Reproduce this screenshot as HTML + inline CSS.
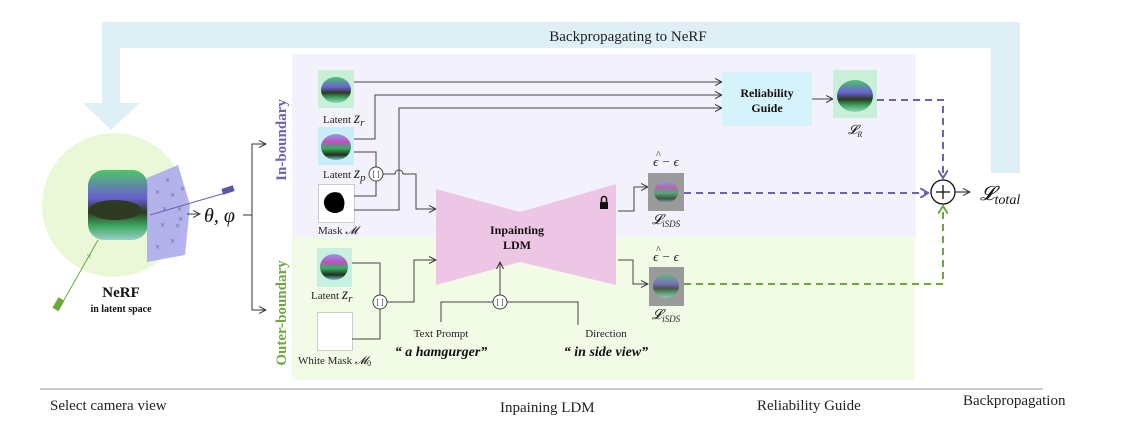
<!DOCTYPE html>
<html><head><meta charset="utf-8"><style>
html,body{margin:0;padding:0;background:#fff;}
svg{display:block;}
text{font-family:"Liberation Serif",serif;}
</style></head><body>
<svg width="1138" height="425" viewBox="0 0 1138 425" xmlns="http://www.w3.org/2000/svg">
<defs>
<marker id="ar" markerWidth="8" markerHeight="8" refX="7" refY="4" orient="auto" markerUnits="userSpaceOnUse"><path d="M0,0.5 L7,4 L0,7.5" fill="none" stroke="#333" stroke-width="1"/></marker>
<marker id="ap" markerWidth="10" markerHeight="10" refX="8" refY="5" orient="auto" markerUnits="userSpaceOnUse"><path d="M0,0 L8,5 L0,10" fill="none" stroke="#6a63b0" stroke-width="2"/></marker>
<marker id="ag" markerWidth="10" markerHeight="10" refX="8" refY="5" orient="auto" markerUnits="userSpaceOnUse"><path d="M0,0 L8,5 L0,10" fill="none" stroke="#6ea83a" stroke-width="2"/></marker>
<linearGradient id="bg1" x1="0" y1="0" x2="0" y2="1"><stop offset="0" stop-color="#4fc46a"/><stop offset="0.4" stop-color="#6a5fd0"/><stop offset="0.6" stop-color="#2c3a20"/><stop offset="0.8" stop-color="#3ea860"/><stop offset="1" stop-color="#9ad0c8"/></linearGradient>
<linearGradient id="bg2" x1="0" y1="0" x2="0" y2="1"><stop offset="0" stop-color="#8a9fe0"/><stop offset="0.3" stop-color="#c050c0"/><stop offset="0.55" stop-color="#33b060"/><stop offset="0.8" stop-color="#203018"/><stop offset="1" stop-color="#70c0d0"/></linearGradient>
</defs>

<path d="M102,22 H1020 V173 H991 V48 H120 V103 H140 L111,130 L83,103 H102 Z" fill="#def0f6"/>
<text x="628" y="41" font-size="15" text-anchor="middle" fill="#222">Backpropagating to NeRF</text>

<rect x="292" y="54" width="624" height="183" fill="#f3f1fc"/>
<rect x="292" y="237" width="623" height="143" fill="#f2fbe6"/>

<circle cx="114" cy="205" r="72" fill="#eaf8d8"/>
<rect x="88" y="170" width="60" height="70" rx="16" fill="url(#bg1)"/>
<ellipse cx="115" cy="210" rx="26" ry="10" fill="#2e3a22"/>
<path d="M147,178 L178,165 L190,205 L185,255 L147,262 Z" fill="#a9a6ee" opacity="0.85"/>
<g font-size="9" fill="#5a56a8">
<text x="165" y="183">×</text><text x="155" y="195">×</text><text x="170" y="198">×</text><text x="180" y="192">×</text><text x="162" y="212">×</text><text x="177" y="212">×</text><text x="160" y="228">×</text><text x="175" y="229">×</text><text x="170" y="244">×</text><text x="155" y="250">×</text><text x="178" y="222">×</text>
</g>
<line x1="150" y1="215" x2="225" y2="193" stroke="#6a63b0" stroke-width="1"/>
<rect x="222" y="187" width="12" height="6" fill="#5a56a8" transform="rotate(-18 228 190)"/>
<line x1="98" y1="240" x2="64" y2="300" stroke="#6ea83a" stroke-width="1"/>
<text x="86" y="260" font-size="11" fill="#6ea83a">×</text>
<rect x="55" y="298" width="7" height="12" fill="#6ea83a" transform="rotate(30 58 304)"/>
<text x="121" y="297" font-size="15" font-weight="bold" text-anchor="middle" fill="#111">NeRF</text>
<text x="121" y="312" font-size="10" font-weight="bold" text-anchor="middle" fill="#111">in latent space</text>

<line x1="187" y1="214" x2="200" y2="214" stroke="#333" marker-end="url(#ar)"/>
<text x="204" y="222" font-size="20" font-style="italic" fill="#111">θ, φ</text>
<line x1="243" y1="215" x2="252" y2="215" stroke="#333"/>
<path d="M266,144 H252 V310 H266" fill="none" stroke="#333"/>
<line x1="252" y1="144" x2="266" y2="144" stroke="#333" marker-end="url(#ar)"/>
<line x1="252" y1="310" x2="266" y2="310" stroke="#333" marker-end="url(#ar)"/>

<text transform="translate(286,140) rotate(-90)" font-size="15" font-weight="bold" text-anchor="middle" fill="#6a63b0">In-boundary</text>
<text transform="translate(286,313) rotate(-90)" font-size="15" font-weight="bold" text-anchor="middle" fill="#6ea83a">Outer-boundary</text>

<rect x="318" y="70" width="36" height="38" fill="#c8f0d8"/><ellipse cx="336" cy="90" rx="15" ry="13" fill="url(#bg1)"/>
<text x="323" y="123" font-size="11" fill="#222">Latent <tspan font-style="italic" font-size="16">z</tspan><tspan font-style="italic" font-size="11" dy="3">r</tspan></text>
<rect x="318" y="127" width="36" height="38" fill="#c9eefa"/><ellipse cx="336" cy="147" rx="15" ry="13" fill="url(#bg2)"/>
<text x="323" y="178" font-size="11" fill="#222">Latent <tspan font-style="italic" font-size="16">z</tspan><tspan font-style="italic" font-size="11" dy="3">p</tspan></text>
<rect x="318.5" y="184.5" width="36" height="38" fill="#fff" stroke="#ccc"/><path d="M325,198 Q330,190 340,193 Q347,200 343,210 Q335,216 327,210 Q322,204 325,198 Z" fill="#000"/>
<text x="318" y="234" font-size="11" fill="#222">Mask <tspan font-style="italic">𝓜</tspan></text>

<g fill="none" stroke="#444" stroke-width="1">
<line x1="354" y1="82" x2="722" y2="82" marker-end="url(#ar)"/>
<path d="M354,139 H375 V95 H722" marker-end="url(#ar)"/>
<path d="M354,210 H399 V108 H722" marker-end="url(#ar)"/>
<path d="M354,152 H376 V196 H354"/>
<path d="M383,174 H395 A4,4 0 0 1 403,174 H416 V209 H436" marker-end="url(#ar)"/>
</g>
<circle cx="376" cy="174" r="7" fill="#fff" stroke="#444"/><text x="376" y="177" font-size="8" text-anchor="middle" fill="#333">[ ]</text>

<rect x="317" y="248" width="35" height="39" fill="#c8f0e0"/><ellipse cx="334" cy="267" rx="14" ry="13" fill="url(#bg2)"/>
<text x="311" y="299" font-size="11" fill="#222">Latent <tspan font-style="italic" font-size="16">z</tspan><tspan font-style="italic" font-size="11" dy="3">r</tspan></text>
<rect x="317.5" y="312.5" width="35" height="38" fill="#fff" stroke="#ccc"/>
<text x="298" y="364" font-size="11" fill="#222">White Mask <tspan font-style="italic">𝓜</tspan><tspan font-size="8" dy="2">0</tspan></text>

<path d="M436,189 L520,212 L616,184 L616,285 L520,262 L436,285 Z" fill="#ecc6e4"/>
<text x="517" y="234" font-size="12" font-weight="bold" text-anchor="middle" fill="#111">Inpainting</text>
<text x="517" y="249" font-size="12" font-weight="bold" text-anchor="middle" fill="#111">LDM</text>
<rect x="600" y="202" width="8" height="7" fill="#111"/><path d="M601.5,202 V199 A2.5,2.5 0 0 1 606.5,199 V202" fill="none" stroke="#111" stroke-width="1.5"/>

<g fill="none" stroke="#444" stroke-width="1">
<path d="M352,263 H380 V339 H352"/>
<path d="M387,302 H414 V260 H436" marker-end="url(#ar)"/>
<path d="M441,322 V302 H578 V325"/>
<line x1="500" y1="295" x2="500" y2="262" marker-end="url(#ar)"/>
<path d="M618,211 H634 V187 H648" marker-end="url(#ar)"/>
<path d="M618,260 H633 V284 H648" marker-end="url(#ar)"/>
</g>
<circle cx="380" cy="302" r="7" fill="#fff" stroke="#444"/><text x="380" y="305" font-size="8" text-anchor="middle" fill="#333">[ ]</text>
<circle cx="500" cy="302" r="7" fill="#fff" stroke="#444"/><text x="500" y="305" font-size="8" text-anchor="middle" fill="#333">[ ]</text>
<text x="441" y="337" font-size="11" text-anchor="middle" fill="#222">Text Prompt</text>
<text x="441" y="356" font-size="14" font-weight="bold" font-style="italic" text-anchor="middle" fill="#111">“ a hamgurger”</text>
<text x="606" y="337" font-size="11" text-anchor="middle" fill="#222">Direction</text>
<text x="606" y="356" font-size="14" font-weight="bold" font-style="italic" text-anchor="middle" fill="#111">“ in side view”</text>

<rect x="648" y="173" width="36" height="38" fill="#9a9a9a"/><ellipse cx="666" cy="192" rx="12" ry="11" fill="url(#bg2)" opacity="0.7"/>
<rect x="649" y="267" width="35" height="39" fill="#9a9a9a"/><ellipse cx="666" cy="286" rx="13" ry="12" fill="url(#bg1)" opacity="0.7"/>
<text x="666" y="166" font-size="13" font-style="italic" text-anchor="middle" fill="#222">ϵ − ϵ</text>
<text x="656" y="158" font-size="10" fill="#222">^</text>
<text x="666" y="261" font-size="13" font-style="italic" text-anchor="middle" fill="#222">ϵ − ϵ</text>
<text x="656" y="253" font-size="10" fill="#222">^</text>
<text x="666" y="224" font-size="14" font-style="italic" text-anchor="middle" fill="#222">𝓛<tspan font-size="9" dy="3">iSDS</tspan></text>
<text x="666" y="319" font-size="14" font-style="italic" text-anchor="middle" fill="#222">𝓛<tspan font-size="9" dy="3">iSDS</tspan></text>

<rect x="722" y="72" width="90" height="54" fill="#d6f3fb"/>
<text x="767" y="97" font-size="12" font-weight="bold" text-anchor="middle" fill="#111">Reliability</text>
<text x="767" y="112" font-size="12" font-weight="bold" text-anchor="middle" fill="#111">Guide</text>
<line x1="812" y1="99" x2="833" y2="99" stroke="#444" marker-end="url(#ar)"/>
<rect x="833" y="70" width="44" height="48" fill="#c8f0d8"/><ellipse cx="855" cy="96" rx="18" ry="16" fill="url(#bg1)"/>
<text x="855" y="134" font-size="13" font-style="italic" text-anchor="middle" fill="#222">𝓛<tspan font-size="8" dy="3">R</tspan></text>

<path d="M877,100 H943 V178" fill="none" stroke="#6a63b0" stroke-width="2" stroke-dasharray="7,5" marker-end="url(#ap)"/>
<path d="M684,193 H928" fill="none" stroke="#6a63b0" stroke-width="2" stroke-dasharray="7,5" marker-end="url(#ap)"/>
<path d="M684,284 H943 V206" fill="none" stroke="#6ea83a" stroke-width="2" stroke-dasharray="7,5" marker-end="url(#ag)"/>
<circle cx="943" cy="192" r="12" fill="#fff" stroke="#111" stroke-width="1.3"/>
<path d="M936,192 H950 M943,185 V199" stroke="#111" stroke-width="1.3"/>
<line x1="955" y1="192" x2="970" y2="192" stroke="#111" marker-end="url(#ar)"/>
<text x="980" y="200" font-size="20" font-style="italic" fill="#111">𝓛<tspan font-size="14" dy="4">total</tspan></text>

<line x1="40" y1="389" x2="1043" y2="389" stroke="#999" stroke-width="1"/>
<text x="50" y="410" font-size="15" fill="#222">Select camera view</text>
<text x="500" y="412" font-size="15" fill="#222">Inpaining LDM</text>
<text x="757" y="410" font-size="15" fill="#222">Reliability Guide</text>
<text x="963" y="405" font-size="15" fill="#222">Backpropagation</text>
</svg>
</body></html>
